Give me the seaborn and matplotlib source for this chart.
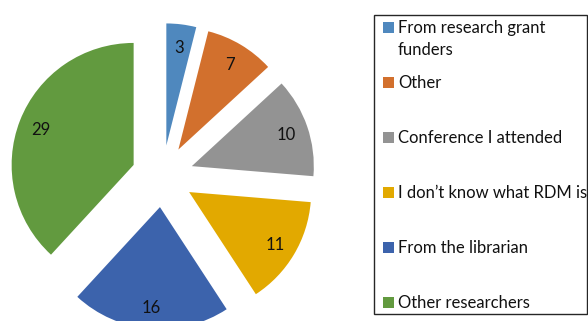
import matplotlib
matplotlib.use("Agg")
import matplotlib.pyplot as plt
from matplotlib.patches import Rectangle
import seaborn as sns

# Survey answers: where respondents first heard about research data management
sources = [
    "From research grant\nfunders",
    "Other",
    "Conference I attended",
    "I don\u2019t know what RDM is",
    "From the librarian",
    "Other researchers",
]
counts = [3, 7, 10, 11, 16, 29]
colors = ["#4F88BE", "#D2702D", "#939393", "#E2A900", "#3C63AC", "#629A3F"]

sns.set_theme(style="white")
plt.rcParams["font.family"] = ["Lato", "DejaVu Sans"]

W, H = 588, 321
fig = plt.figure(figsize=(W / 100, H / 100), dpi=100)
ax = fig.add_axes([0, 0, 1, 1])

palette = sns.color_palette(colors)
total = sum(counts)
radius_px = 122.0
cx, cy = 162.5, 176.2  # pie centre in pixels (from top-left)

ax.pie(
    counts,
    colors=palette,
    startangle=90,
    counterclock=False,
    explode=[0.254] * len(counts),
    autopct=lambda p: f"{round(p * total / 100):d}",
    pctdistance=0.82,
    textprops={"fontsize": 12, "color": "#111111", "va": "center_baseline"},
    wedgeprops={"linewidth": 0},
)
ax.set_aspect("auto")
ax.set_xlim(-cx / radius_px, (W - cx) / radius_px)
ax.set_ylim(-(H - cy) / radius_px, cy / radius_px)
ax.axis("off")

# Legend panel
def fx(px):
    return px / W

def fy(py):
    return 1 - py / H

box_l, box_t, box_r, box_b = 373.5, 14.5, 587.0, 314.0
fig.patches.append(Rectangle((fx(box_l), fy(box_b)), fx(box_r) - fx(box_l),
                             fy(box_t) - fy(box_b), transform=fig.transFigure,
                             fill=False, edgecolor="#262626", linewidth=1.0))

row_y = [27.5, 82.5, 137.5, 192.5, 247.5, 302.5]
sq = 10.7
line_gap = 21.7
for label, col, y in zip(sources, palette, row_y):
    fig.patches.append(Rectangle((fx(383.3), fy(y + sq / 2)), sq / W, sq / H,
                                 transform=fig.transFigure, facecolor=col,
                                 edgecolor="none"))
    for i, line in enumerate(label.split("\n")):
        fig.text(fx(398), fy(y + sq / 2 + i * line_gap), line, ha="left",
                 va="baseline", fontsize=12, color="#111111")

fig.savefig("out.png", dpi=100)
